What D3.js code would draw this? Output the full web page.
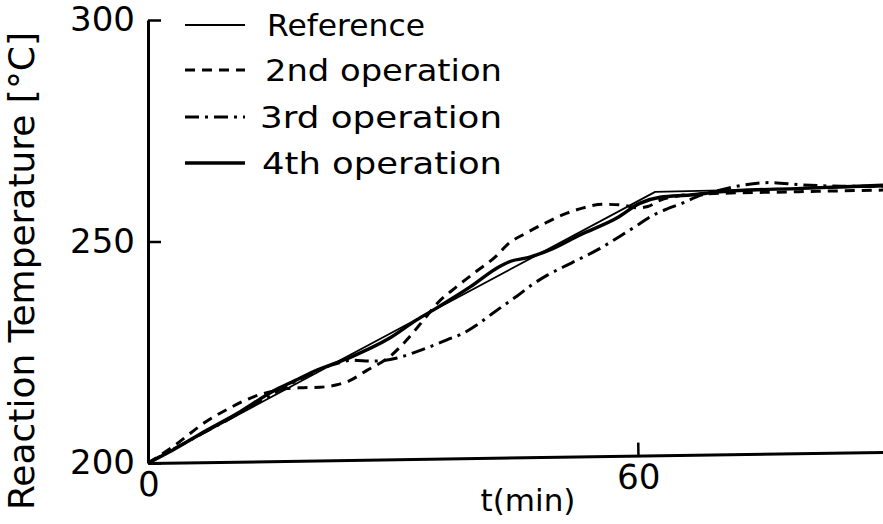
<!DOCTYPE html>
<html>
<head>
<meta charset="utf-8">
<script src="https://cdn.jsdelivr.net/npm/d3@7"></script>
<style>
  html, body { margin: 0; padding: 0; background: #fff; }
  svg { display: block; }
  text { font-family: "DejaVu Sans", sans-serif; fill: #000; }
</style>
</head>
<body>
<svg id="chart" width="883" height="524"></svg>
<script>
// Reaction temperature profiles against time, per operation
const xTicks = [0, 60];
const yTicks = [200, 250, 300];

const timeRef = [0, 62.1, 90];
const tempRef = [200, 261.2, 262.4];

const time2 = [0, 3, 7, 10, 13, 15.5, 17, 19, 21, 23, 24.7, 26.8, 29.6, 31.7, 33.7, 35.4, 37.8, 40.3, 42.7, 44, 46.4, 48.9, 51.3, 53.3, 55.7, 58.2, 59.9, 61.2, 62.7, 65, 67.6, 78.6, 90];
const temp2 = [200, 203.6, 209.2, 212.4, 215, 216.3, 216.8, 217, 217.1, 217.6, 218.6, 220.9, 224, 227.8, 232.2, 236, 239.8, 243.4, 246.8, 249.3, 252, 254.4, 256.4, 257.6, 258.4, 258.2, 257.6, 257.9, 259.3, 260.3, 260.7, 261.2, 261.6];

const time3 = [0, 5, 10, 15, 20, 23, 25, 27.5, 30.5, 32.4, 34.2, 36.6, 38.5, 40.3, 42, 43.5, 45.2, 47, 48.9, 50.9, 52.9, 55.3, 57.8, 60.2, 61.7, 63.5, 65.5, 67.6, 70, 72.5, 76, 80, 85, 90];
const temp3 = [200, 205, 210, 215.3, 220.2, 222.4, 223.2, 223, 223.7, 224.8, 226, 227.8, 229.2, 231.2, 233.5, 235.5, 237.7, 240.2, 242.4, 244.3, 246.1, 248.4, 251.2, 254, 255.8, 257.3, 258.7, 260.4, 261.6, 262.6, 263.3, 262.8, 262.5, 262.5];

const time4 = [0, 3, 7.2, 11.3, 15.3, 18, 20.7, 24.7, 29.6, 32.9, 34.9, 39.5, 43, 44.5, 46.4, 49.2, 52.9, 57.4, 60.2, 62.7, 66.4, 70, 80, 90];
const temp4 = [200, 202.9, 207.4, 211.6, 216.2, 218.6, 221, 223.8, 228.2, 232.3, 234.5, 239.8, 244.3, 245.6, 246.3, 248.1, 251.5, 255.3, 258.6, 260, 260.5, 261.2, 262, 262.7];

const seriesNames = ["Reference", "2nd operation", "3rd operation", "4th operation"];

const svg = d3.select("#chart");

const x = d3.scaleLinear().domain([0, 90]).range([148, 883]);
const y = d3.scaleLinear().domain([200, 300]).range([463, 20]);

const styles = [
  { width: 1.8, dash: null, curve: d3.curveLinear },
  { width: 3, dash: "10,7", curve: d3.curveMonotoneX },
  { width: 3, dash: "14,6,3,6", curve: d3.curveMonotoneX },
  { width: 3.4, dash: null, curve: d3.curveMonotoneX }
];

const series = [
  [timeRef, tempRef],
  [time2, temp2],
  [time3, temp3],
  [time4, temp4]
];

// Curves
series.forEach(([ts, vs], i) => {
  const pts = ts.map((t, k) => [t, vs[k]]);
  const line = d3.line().x(d => x(d[0])).y(d => y(d[1])).curve(styles[i].curve);
  svg.append("path")
    .attr("d", line(pts))
    .attr("fill", "none")
    .attr("stroke", "#000")
    .attr("stroke-width", styles[i].width)
    .attr("stroke-dasharray", styles[i].dash)
    .attr("stroke-linejoin", "round");
});

// Y axis
const yAxis = svg.append("g")
  .attr("transform", `translate(${x(0)},0)`)
  .call(d3.axisLeft(y).tickValues(yTicks).tickSizeInner(-13).tickSizeOuter(0).tickPadding(13));
yAxis.select(".domain").attr("stroke-width", 3);
yAxis.selectAll(".tick line").attr("stroke-width", 2.5);
yAxis.selectAll(".tick text").attr("font-size", 34).attr("font-family", "DejaVu Sans");

// X axis (slightly tilted baseline)
const xAxis = svg.append("g")
  .attr("transform", `translate(0,${y(200)}) rotate(-0.86 ${x(0)} 0)`)
  .call(d3.axisBottom(x).tickValues(xTicks).tickSizeInner(-13).tickSizeOuter(0).tickPadding(9));
xAxis.select(".domain").attr("stroke-width", 3);
xAxis.selectAll(".tick line").attr("stroke-width", 2.5);
xAxis.selectAll(".tick text").attr("font-size", 34).attr("font-family", "DejaVu Sans");
xAxis.selectAll(".tick").filter(d => d === 0).select("line").remove();

// Axis titles
svg.append("text")
  .attr("x", 528).attr("y", 511)
  .attr("text-anchor", "middle")
  .attr("font-size", 31)
  .text("t(min)");

svg.append("text")
  .attr("transform", "translate(34,510) rotate(-90)")
  .attr("font-size", 36)
  .attr("textLength", 478)
  .attr("lengthAdjust", "spacingAndGlyphs")
  .text("Reaction  Temperature  [°C]");

// Legend
const legendY = [25, 70, 117, 163];
const legendTextX = [267, 265, 260, 262];
const legendTextLen = [158, 237, 242, 240];
seriesNames.forEach((name, i) => {
  svg.append("line")
    .attr("x1", 185).attr("x2", 245)
    .attr("y1", legendY[i]).attr("y2", legendY[i])
    .attr("stroke", "#000")
    .attr("stroke-width", styles[i].width)
    .attr("stroke-dasharray", styles[i].dash);
  svg.append("text")
    .attr("x", legendTextX[i]).attr("y", legendY[i] + 11)
    .attr("font-size", 30)
    .attr("textLength", legendTextLen[i])
    .attr("lengthAdjust", "spacingAndGlyphs")
    .text(name.replace(" ", "  "));
});
</script>
</body>
</html>
